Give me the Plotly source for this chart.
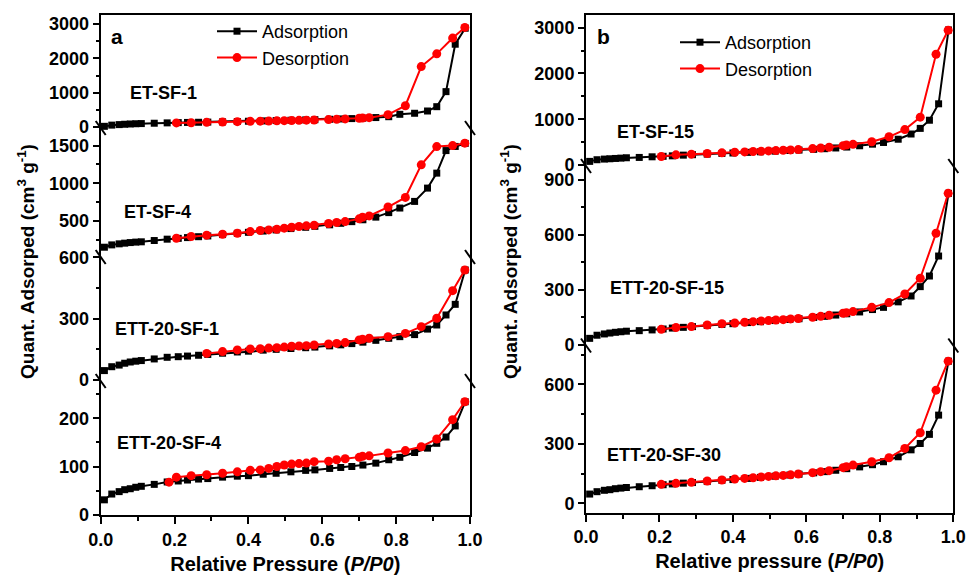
import plotly.graph_objects as go

W, H = 968, 576

# ---------------- data ----------------
ads_x = [0.01, 0.03, 0.05, 0.065, 0.08, 0.095, 0.11, 0.145, 0.18, 0.21,
         0.235, 0.265, 0.29, 0.33, 0.37, 0.40, 0.44, 0.475, 0.515, 0.555,
         0.58, 0.62, 0.65, 0.68, 0.71, 0.745, 0.78, 0.81, 0.85, 0.885,
         0.91, 0.935, 0.96, 0.987]
des_x = [0.185, 0.205, 0.245, 0.287, 0.33, 0.37, 0.405, 0.432, 0.455, 0.477,
         0.497, 0.517, 0.537, 0.557, 0.578, 0.617, 0.639, 0.662, 0.70, 0.709,
         0.727, 0.778, 0.825, 0.868, 0.91, 0.953, 0.986]

et_sf_1_ads = [20, 55, 70, 80, 88, 95, 100, 110, 120, 128,
               133, 138, 143, 150, 160, 168, 178, 187, 197, 207,
               213, 225, 235, 245, 258, 275, 300, 370, 400, 466,
               592, 1030, 2411, 2877]
et_sf_1_des = [120, 125, 135, 145, 155, 165, 170, 175, 180, 185, 190, 195, 200,
               205, 215, 225, 235, 255, 262, 272, 360, 620, 1760, 2130, 2590, 2900]

et_sf_4_ads = [150, 181, 195, 204, 212, 218, 222, 239, 257, 268,
               278, 290, 300, 318, 335, 348, 365, 380, 398, 415,
               428, 448, 468, 490, 515, 550, 610, 671, 759, 936,
               1135, 1435, 1490, 1530]
et_sf_4_des = [270, 292, 310, 323, 336, 358, 372, 380, 389, 403, 416, 425, 434,
               442, 465, 478, 491, 527, 549, 566, 684, 812, 1245, 1488, 1501, 1533]

ett_20_sf_1_ads = [46, 65, 73, 82, 88, 92, 95, 103, 111, 114,
                   117, 121, 125, 131, 137, 141, 146, 150, 154, 158,
                   161, 167, 172, 178, 185, 194, 204, 212, 222, 249,
                   269, 318, 370, 538]
ett_20_sf_1_des = [130, 139, 147, 152, 153, 156, 158, 161, 165, 166, 168, 171,
                   176, 179, 183, 196, 199, 204, 212, 228, 261, 302, 437, 538]

ett_20_sf_4_ads = [31, 43, 48, 52, 54, 57, 59, 63, 68, 70,
                   72, 74, 75, 78, 80, 81, 84, 86, 89, 92,
                   93, 96, 98, 100, 103, 107, 114, 119, 129, 138,
                   148, 161, 184, 234]
ett_20_sf_4_des = [67.6, 78, 81, 83, 86, 89, 92, 93, 96, 100, 103, 105, 106, 107,
                   110, 111, 114, 116, 119, 121, 122, 128, 133, 141, 157, 197, 234]

et_sf_15_ads = [79, 115, 129, 136, 143, 150, 158, 165, 179, 190,
                200, 215, 225, 238, 252, 262, 276, 288, 302, 316,
                326, 342, 356, 372, 392, 420, 455, 492, 563, 677,
                800, 978, 1337, 2950]
et_sf_15_des = [186, 222, 236, 250, 265, 279, 286, 294, 301, 308, 315, 322, 329,
                337, 358, 372, 387, 422, 437, 451, 508, 616, 773, 1045, 2420, 2943]

ett_20_sf_15_ads = [36, 53, 60, 65, 69, 72, 75, 78, 82, 87,
                    92, 96, 100, 106, 112, 116, 122, 127, 133, 139,
                    143, 150, 156, 163, 170, 180, 193, 205, 235, 267,
                    318, 376, 485, 827]
ett_20_sf_15_des = [85, 95, 100, 109, 116, 120, 124, 127, 131, 133, 136, 138, 142,
                    144, 151, 156, 162, 173, 176, 182, 205, 231, 278, 364, 609, 827]

ett_20_sf_30_ads = [47, 59, 66, 69, 74, 77, 80, 84, 89, 94,
                    98, 102, 105, 110, 116, 120, 126, 131, 137, 143,
                    147, 154, 160, 167, 175, 184, 195, 210, 235, 270,
                    302, 348, 445, 717]
ett_20_sf_30_des = [96, 101, 106, 113, 118, 123, 126, 129, 133, 136, 139, 141, 144,
                    148, 155, 160, 165, 180, 185, 193, 210, 230, 277, 356, 571, 717]

sample_names = ["ET-SF-1", "ET-SF-4", "ETT-20-SF-1", "ETT-20-SF-4",
                 "ET-SF-15", "ETT-20-SF-15", "ETT-20-SF-30"]
series_names = ["Adsorption", "Desorption"]
x_tick_labels = ["0.0", "0.2", "0.4", "0.6", "0.8", "1.0"]

# ---------------- layout geometry ----------------
def fx(p):
    return p / W

def fy(p):
    return 1 - p / H

LEFT = (100.7, 470.0)
RIGHT = (586.0, 953.3)

panels = [
    dict(ads=et_sf_1_ads, des=et_sf_1_des, col=LEFT, top=15, bot=128,
         rng=[-29, 3262], dt=1000, lab=(128, 93)),
    dict(ads=et_sf_4_ads, des=et_sf_4_des, col=LEFT, top=128, bot=257,
         rng=[20, 1735], dt=500, lab=(122, 212)),
    dict(ads=ett_20_sf_1_ads, des=ett_20_sf_1_des, col=LEFT, top=257, bot=381,
         rng=[-4.9, 601.5], dt=300, lab=(113, 329)),
    dict(ads=ett_20_sf_4_ads, des=ett_20_sf_4_des, col=LEFT, top=381, bot=515,
         rng=[-0.4, 277], dt=100, lab=(115, 443)),
    dict(ads=et_sf_15_ads, des=et_sf_15_des, col=RIGHT, top=15, bot=166,
         rng=[-22, 3277], dt=1000, lab=(615, 132)),
    dict(ads=ett_20_sf_15_ads, des=ett_20_sf_15_des, col=RIGHT, top=166, bot=345.5,
         rng=[-3, 976], dt=300, lab=(608, 288)),
    dict(ads=ett_20_sf_30_ads, des=ett_20_sf_30_des, col=RIGHT, top=345.5, bot=512.7,
         rng=[-47, 796], dt=300, lab=(605, 455)),
]
top_ids = {1, 5}
bottom_ids = {4, 7}

FONT = "Liberation Sans, Arial, sans-serif"
tickfont = dict(family=FONT, size=18, color="black", weight="bold")

fig = go.Figure()
layout = dict(
    width=W, height=H,
    margin=dict(l=0, r=0, t=0, b=0, autoexpand=False),
    plot_bgcolor="white", paper_bgcolor="white",
    showlegend=True,
)

annotations = []
shapes = []

for i, p in enumerate(panels, start=1):
    xk = "xaxis" if i == 1 else f"xaxis{i}"
    yk = "yaxis" if i == 1 else f"yaxis{i}"
    xr = "x" if i == 1 else f"x{i}"
    yr = "y" if i == 1 else f"y{i}"
    xdom = [fx(p["col"][0]), fx(p["col"][1])]
    ydom = [fy(p["bot"]), fy(p["top"])]

    xaxis = dict(domain=xdom, anchor=yr, range=[0, 1], showgrid=False,
                 zeroline=False, fixedrange=True, automargin=False)
    if i in top_ids:
        xaxis.update(side="top", showline=True, linewidth=2, linecolor="black",
                     ticks="", showticklabels=False)
    elif i in bottom_ids:
        xaxis.update(showline=True, linewidth=2, linecolor="black",
                     ticks="outside", ticklen=7, tickwidth=2, tickcolor="black",
                     tickvals=[0, 0.2, 0.4, 0.6, 0.8, 1.0], ticktext=x_tick_labels,
                     tickfont=tickfont,
                     minor=dict(ticks="outside", ticklen=4, tickwidth=2,
                                tickcolor="black", dtick=0.1, tick0=0),
                     title=dict(text=("Relative Pressure (<i>P/P0</i>)" if i == 4
                                      else "Relative pressure (<i>P/P0</i>)"),
                                font=dict(family=FONT, size=20, color="black",
                                          weight="bold"),
                                standoff=8))
    else:
        xaxis.update(visible=False)
    layout[xk] = xaxis

    layout[yk] = dict(domain=ydom, anchor=xr, range=p["rng"], showgrid=False,
                      zeroline=False, fixedrange=True, automargin=False,
                      showline=True, linewidth=2, linecolor="black", mirror=True,
                      ticks="outside", ticklen=6, tickwidth=2, tickcolor="black",
                      tick0=0, dtick=p["dt"], tickfont=tickfont,
                      minor=dict(ticks="outside", ticklen=3, tickwidth=2,
                                 tickcolor="black", dtick=p["dt"] / 2, tick0=0))

    leg = "legend" if i == 1 else ("legend2" if i == 5 else None)
    show = leg is not None
    kw_leg = dict(legend=leg) if leg else {}
    fig.add_trace(go.Scatter(
        x=ads_x, y=p["ads"], xaxis=xr, yaxis=yr, name=series_names[0],
        mode="lines+markers", line=dict(color="black", width=2),
        marker=dict(symbol="square", size=7, color="black"),
        showlegend=show, cliponaxis=False, **kw_leg))
    fig.add_trace(go.Scatter(
        x=des_x[-len(p["des"]):], y=p["des"], xaxis=xr, yaxis=yr,
        name=series_names[1], mode="lines+markers",
        line=dict(color="#ff0000", width=2),
        marker=dict(symbol="circle", size=9, color="#ff0000"),
        showlegend=show, cliponaxis=False, **kw_leg))

    annotations.append(dict(
        text=sample_names[i - 1], xref="paper", yref="paper",
        x=fx(p["lab"][0]), y=fy(p["lab"][1]), xanchor="left", yanchor="middle",
        showarrow=False, font=dict(family=FONT, size=18, color="black", weight="bold")))

    if i not in bottom_ids:
        for sx in p["col"]:
            shapes.append(dict(type="line", xref="paper", yref="paper",
                               x0=fx(sx - 5), x1=fx(sx + 5),
                               y0=fy(p["bot"] - 7), y1=fy(p["bot"] + 7),
                               line=dict(color="black", width=2)))

for letter, (lx, ly) in zip(["a", "b"], [(117, 36), (603, 36)]):
    annotations.append(dict(text=letter, xref="paper", yref="paper", x=fx(lx), y=fy(ly),
                            xanchor="center", yanchor="middle", showarrow=False,
                            font=dict(family=FONT, size=21, color="black", weight="bold")))

for tx in [26, 509]:
    annotations.append(dict(text="Quant. Adsorped (cm<sup>3</sup> g<sup>-1</sup>)",
                            xref="paper", yref="paper", x=fx(tx), y=fy(262),
                            xanchor="center", yanchor="middle", textangle=-90,
                            showarrow=False,
                            font=dict(family=FONT, size=19, color="black", weight="bold")))

leg_font = dict(family=FONT, size=18, color="black")
layout["legend"] = dict(x=fx(212), y=fy(13), xanchor="left", yanchor="top",
                        bgcolor="rgba(0,0,0,0)", font=leg_font, tracegroupgap=0,
                        itemwidth=40)
layout["legend2"] = dict(x=fx(675), y=fy(24), xanchor="left", yanchor="top",
                         bgcolor="rgba(0,0,0,0)", font=leg_font, tracegroupgap=0,
                         itemwidth=40)
layout["annotations"] = annotations
layout["shapes"] = shapes

fig.update_layout(**layout)
fig.write_html("out.html",
               config={"displayModeBar": False},
               post_script="document.body.style.margin='0px';"
                           "document.body.style.overflow='hidden';")
